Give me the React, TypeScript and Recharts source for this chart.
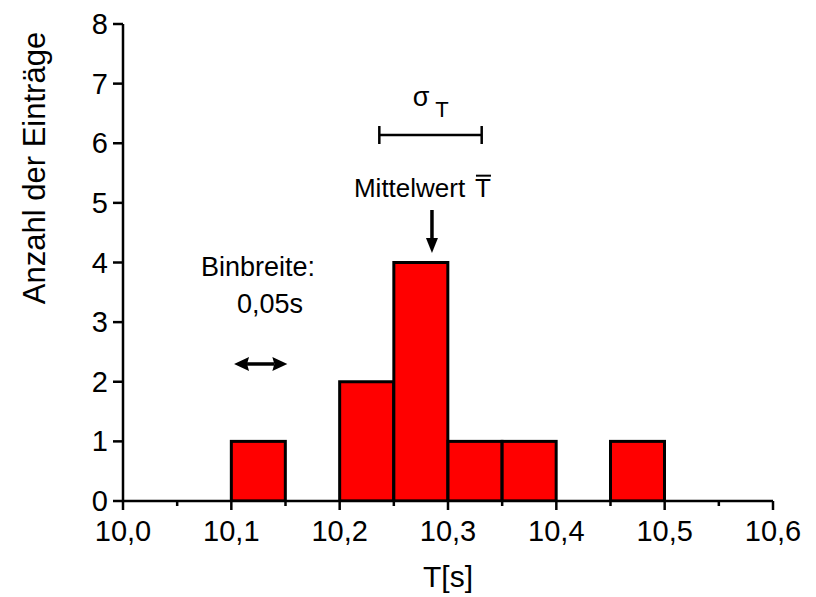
import React from 'react';
import {
  BarChart,
  Bar,
  XAxis,
  YAxis,
  ReferenceLine,
  ReferenceDot,
} from 'recharts';

// histogram bins (left edge of each 0.05 s bin) and counts
const BIN_LEFT = [
  10.0, 10.05, 10.1, 10.15, 10.2, 10.25, 10.3, 10.35, 10.4, 10.45, 10.5, 10.55,
];
const COUNTS = [0, 0, 1, 0, 2, 4, 1, 1, 0, 1, 0, 0];

const X_TICKS = [
  10.0, 10.05, 10.1, 10.15, 10.2, 10.25, 10.3, 10.35, 10.4, 10.45, 10.5, 10.55,
  10.6,
];
const Y_TICKS = [0, 1, 2, 3, 4, 5, 6, 7, 8];

const data = BIN_LEFT.map((b, i) => ({ bin: b, count: COUNTS[i] }));

const FONT = '"Liberation Sans", Arial, sans-serif';

function XTick({ x, y, payload }: any) {
  const v = payload.value as number;
  const major = Math.round(v * 100) % 10 === 0;
  return (
    <g>
      <line
        x1={x}
        x2={x}
        y1={y}
        y2={y + (major ? 9 : 5)}
        stroke="#000"
        strokeWidth={2.5}
      />
      {major && (
        <text
          x={x}
          y={y + 40}
          textAnchor="middle"
          fontSize={29}
          fontFamily={FONT}
          fill="#000"
        >
          {v.toFixed(1).replace('.', ',')}
        </text>
      )}
    </g>
  );
}

function YTick({ x, y, payload }: any) {
  return (
    <text
      x={x}
      y={y + 10}
      textAnchor="end"
      fontSize={29}
      fontFamily={FONT}
      fill="#000"
    >
      {payload.value}
    </text>
  );
}

function HistBar(props: any) {
  const { x, y, width, height } = props;
  if (!height || height <= 0) return null;
  return (
    <rect
      x={x}
      y={y}
      width={width}
      height={height}
      fill="#ff0000"
      stroke="#000"
      strokeWidth={3}
    />
  );
}

function DoubleArrow({ x1, y1, x2 }: any) {
  const h = 15;
  return (
    <g>
      <line x1={x1 + h - 2} x2={x2 - h + 2} y1={y1} y2={y1} stroke="#000" strokeWidth={3.5} />
      <polygon points={`${x1},${y1} ${x1 + h},${y1 - 7} ${x1 + h - 2},${y1} ${x1 + h},${y1 + 7}`} fill="#000" />
      <polygon points={`${x2},${y1} ${x2 - h},${y1 - 7} ${x2 - h + 2},${y1} ${x2 - h},${y1 + 7}`} fill="#000" />
    </g>
  );
}

function SigmaBar({ x1, y1, x2 }: any) {
  return (
    <g stroke="#000" strokeWidth={2.5}>
      <line x1={x1} x2={x2} y1={y1} y2={y1} />
      <line x1={x1} x2={x1} y1={y1 - 9} y2={y1 + 9} />
      <line x1={x2} x2={x2} y1={y1 - 9} y2={y1 + 9} />
    </g>
  );
}

function DownArrow({ x1, y1, y2 }: any) {
  return (
    <g>
      <line x1={x1} x2={x1} y1={y1} y2={y2 - 12} stroke="#000" strokeWidth={3.5} />
      <polygon points={`${x1},${y2} ${x1 - 6},${y2 - 15} ${x1 + 6},${y2 - 15}`} fill="#000" />
    </g>
  );
}

const textAt =
  (content: React.ReactNode, anchor: 'start' | 'middle' | 'end', size: number) =>
  ({ cx, cy }: any) => (
    <text x={cx} y={cy} textAnchor={anchor} fontSize={size} fontFamily={FONT} fill="#000">
      {content}
    </text>
  );

function MeanLabel({ cx, cy }: any) {
  const tx = cx + 121;
  return (
    <g>
      <text x={cx} y={cy} fontSize={26} fontFamily={FONT} fill="#000">
        Mittelwert
      </text>
      <text x={tx} y={cy} fontSize={26} fontFamily={FONT} fill="#000">
        T
      </text>
      <line x1={tx + 1} x2={tx + 16} y1={cy - 21} y2={cy - 21} stroke="#000" strokeWidth={2} />
    </g>
  );
}

function SigmaLabel({ cx, cy }: any) {
  return (
    <text x={cx} y={cy} fontSize={27} fontFamily={FONT} fill="#000">
      σ
      <tspan dx={6} dy={11} fontSize={22}>
        T
      </tspan>
    </text>
  );
}

export default function App() {
  return (
    <div style={{ position: 'absolute', left: 0, top: 0, background: '#fff' }}>
      <BarChart
        width={816}
        height={597}
        data={data}
        margin={{ top: 24, right: 43, bottom: 0, left: 0 }}
        barCategoryGap={0}
        barGap={0}
      >
        <XAxis xAxisId="bin" dataKey="bin" orientation="top" height={0} hide />
        <XAxis
          xAxisId="num"
          type="number"
          dataKey="bin"
          domain={[10, 10.6]}
          allowDataOverflow
          ticks={X_TICKS}
          interval={0}
          tickSize={0}
          tickMargin={0}
          tickLine={false}
          tick={<XTick />}
          height={96}
          axisLine={{ stroke: '#000', strokeWidth: 2.5 }}
          label={{
            content: () => (
              <text x={448} y={587} textAnchor="middle" fontSize={30} fontFamily={FONT} fill="#000">
                T[s]
              </text>
            ),
          }}
        />
        <XAxis
          xAxisId="top"
          orientation="top"
          type="number"
          domain={[10, 10.6]}
          allowDataOverflow
          height={0}
          tick={false}
          tickLine={false}
          axisLine={{ stroke: '#000', strokeWidth: 2.5 }}
        />
        <YAxis
          yAxisId="left"
          type="number"
          domain={[0, 8]}
          allowDataOverflow
          ticks={Y_TICKS}
          interval={0}
          width={123}
          tickSize={10}
          tickMargin={5}
          tickLine={{ stroke: '#000', strokeWidth: 2.5 }}
          axisLine={{ stroke: '#000', strokeWidth: 2.5 }}
          tick={<YTick />}
          label={{
            content: () => (
              <text
                transform="translate(45,168) rotate(-90)"
                textAnchor="middle"
                fontSize={31}
                fontFamily={FONT}
                fill="#000"
              >
                Anzahl der Einträge
              </text>
            ),
          }}
        />
        <YAxis
          yAxisId="right"
          orientation="right"
          type="number"
          domain={[0, 8]}
          allowDataOverflow
          width={0}
          tick={false}
          tickLine={false}
          axisLine={{ stroke: '#000', strokeWidth: 2.5 }}
        />
        <Bar
          xAxisId="bin"
          yAxisId="left"
          dataKey="count"
          shape={HistBar}
          isAnimationActive={false}
        />

        {/* annotations */}
        <ReferenceDot xAxisId="num" yAxisId="left" x={10.1246} y={3.774} shape={textAt('Binbreite:', 'middle', 27)} />
        <ReferenceDot xAxisId="num" yAxisId="left" x={10.1357} y={3.161} shape={textAt('0,05s', 'middle', 27)} />
        <ReferenceLine
          xAxisId="num"
          yAxisId="left"
          segment={[
            { x: 10.1025, y: 2.298 },
            { x: 10.1517, y: 2.298 },
          ]}
          shape={DoubleArrow}
        />
        <ReferenceDot xAxisId="num" yAxisId="left" x={10.2674} y={6.633} shape={SigmaLabel} />
        <ReferenceLine
          xAxisId="num"
          yAxisId="left"
          segment={[
            { x: 10.2366, y: 6.138 },
            { x: 10.3311, y: 6.138 },
          ]}
          shape={SigmaBar}
        />
        <ReferenceDot xAxisId="num" yAxisId="left" x={10.2132} y={5.104} shape={MeanLabel} />
        <ReferenceLine
          xAxisId="num"
          yAxisId="left"
          segment={[
            { x: 10.2852, y: 4.881 },
            { x: 10.2852, y: 4.159 },
          ]}
          shape={DownArrow}
        />
      </BarChart>
    </div>
  );
}
